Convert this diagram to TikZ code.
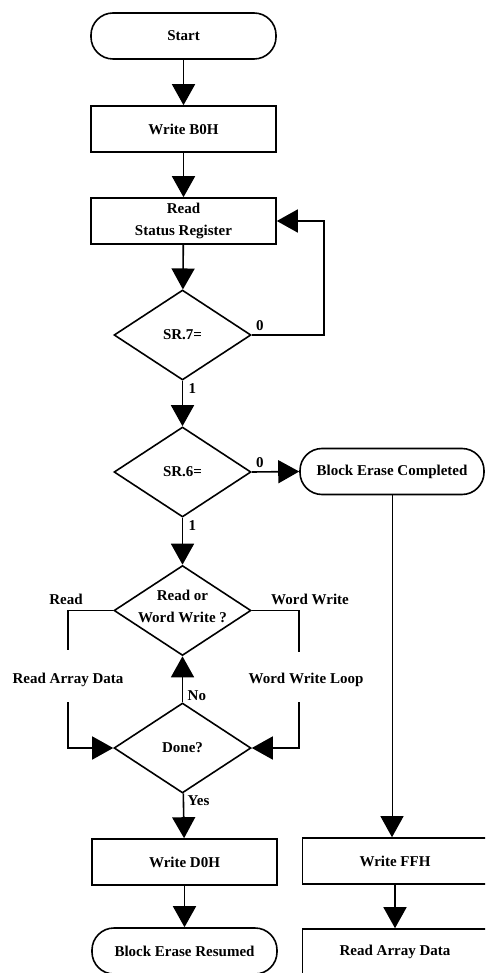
\documentclass[tikz,border=0pt]{standalone}
\usepackage{fontspec}
\setmainfont{Liberation Serif}
\usetikzlibrary{arrows.meta,shapes.geometric}
\begin{document}
\begin{tikzpicture}[x=1pt,y=-1pt,
  every node/.style={font=\fontsize{15}{22}\selectfont\bfseries},
  box/.style={draw, line width=1.6pt, minimum width=185pt, minimum height=46pt,
    inner sep=0pt, align=center},
  term/.style={box, rounded corners=22pt},
  dia/.style={draw, diamond, line width=1.6pt, aspect=1.52, inner sep=0pt,
    minimum width=137pt, minimum height=90pt},
  flow/.style={line width=1.6pt, -{Triangle[length=21pt,width=23pt]}},
  link/.style={line width=1.6pt},
  thin flow/.style={flow, line width=1pt},
  tag/.style={inner sep=0pt}
]
\useasboundingbox (0,0) rectangle (485,973);
\clip (0,0) rectangle (485,973);

% main column
\node[term] (start) at (183.5,36) {Start};
\node[box]  (wb0)   at (183.5,129) {Write B0H};
\node[box]  (rsr)   at (183.5,221) {Read\\Status Register};
\node[dia]  (sr7)   at (182.5,335) {SR.7=};
\node[dia]  (sr6)   at (182.5,472) {SR.6=};
\node[dia, label={[align=center, yshift=4pt]center:Read or\\Word Write ?}] (rw) at (182.5,610.5) {};
\node[dia]  (done)  at (182.5,748) {Done?};
\node[box]  (wd0)   at (184.5,862) {Write D0H};
\node[term] (ber)   at (184.5,951) {Block Erase Resumed};

% right column
\node[term, minimum width=184pt] (bec) at (392,471.5) {Block Erase Completed};
\node[box]  (wff)   at (395,861) {Write FFH};
\node[box]  (rad)   at (395,952) {Read Array Data};

% straight flow
\draw[flow] (start) -- (wb0);
\draw[flow] (wb0) -- (rsr);
\draw[flow] (rsr) -- (sr7);
\draw[flow] (sr7) -- (sr6);
\draw[flow] (sr6) -- (rw);
\draw[flow] (done) -- (rw);
\draw[flow] (done) -- (wd0);
\draw[flow] (wd0) -- (ber);
\draw[flow] (sr6.east) -- (bec.west);
\draw[thin flow] (bec.south) -- (bec.south |- wff.north);
\draw[flow] (wff) -- (rad);

% status polling loop
\draw[flow] (sr7.east) -- ++(72,0) |- (rsr.east);

% branch labels
\node[tag, anchor=base west] at ([shift={(4,-5)}]sr7.east) {0};
\node[tag, anchor=north west] at ([shift={(6,3)}]sr7.south) {1};
\node[tag, anchor=base west] at ([shift={(4,-5)}]sr6.east) {0};
\node[tag, anchor=north west] at ([shift={(6,3)}]sr6.south) {1};
\node[tag, anchor=south west] at ([shift={(5,-1)}]done.north) {No};
\node[tag, anchor=north west] at ([shift={(5,2)}]done.south) {Yes};

% read / word write side loops
\coordinate (ra1) at (68,650);
\coordinate (ra2) at (68,702);
\coordinate (wl1) at (299,652);
\coordinate (wl2) at (299,702);
\draw[link] (rw.west) -| (ra1);
\draw[flow] (ra2) |- (done.west);
\draw[link] (rw.east) -| (wl1);
\draw[flow] (wl2) |- (done.east);

\node[tag] (lread)  at (66,599)  {Read};
\node[tag] (lword)  at (310,599) {Word Write};
\node[tag] (lrad)   at (68,680)  {Read Array Data};
\node[tag] (lwwl)   at (306,680) {Word Write Loop};
\end{tikzpicture}
\end{document}
